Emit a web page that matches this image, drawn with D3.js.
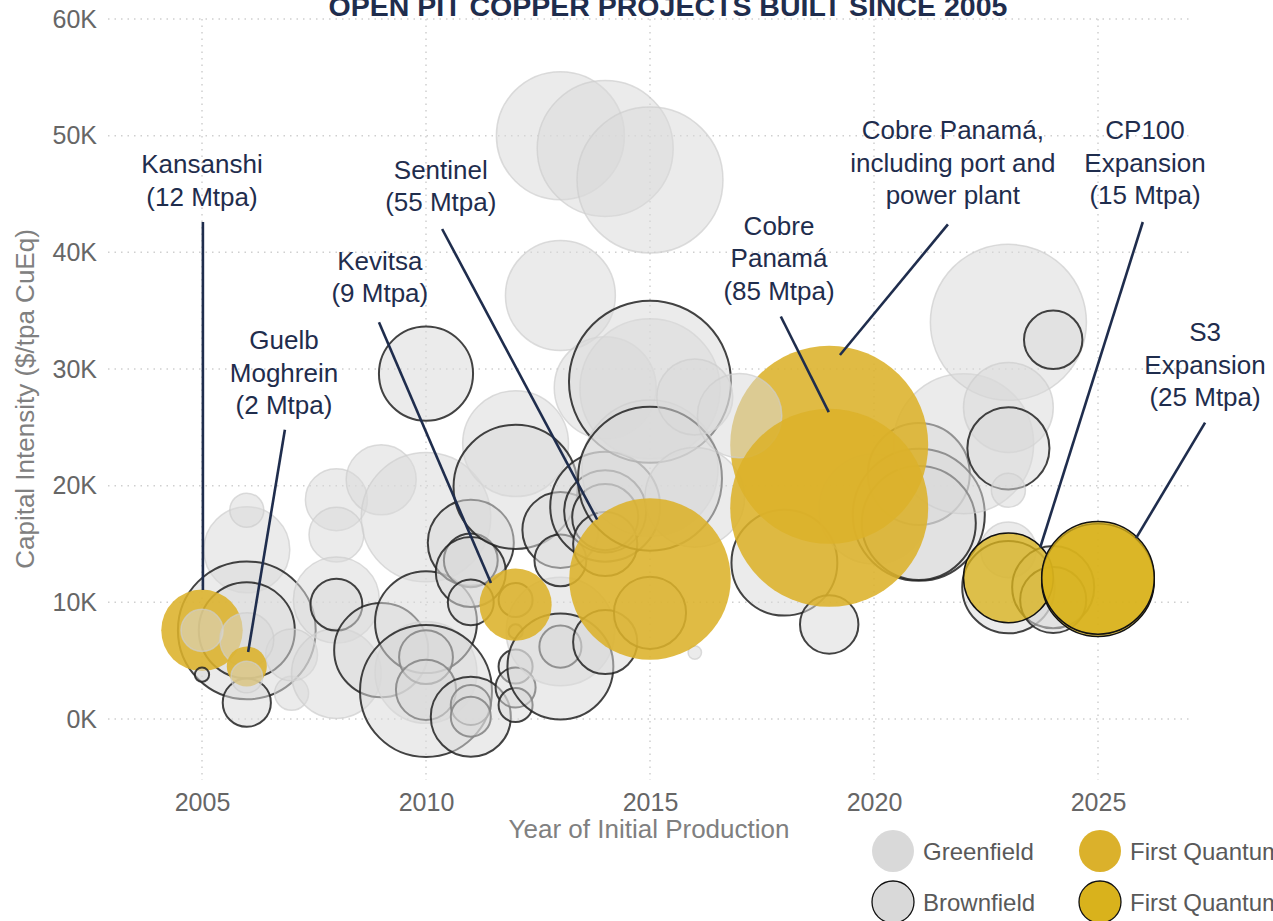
<!DOCTYPE html>
<html>
<head>
<meta charset="utf-8">
<script src="https://cdn.jsdelivr.net/npm/d3@7"></script>
<style>
  body { margin: 0; background: #fff; }
  text { font-family: "Liberation Sans", Arial, sans-serif; }
</style>
</head>
<body>
<div id="chart"></div>
<script>
// tick labels
var xTicks = [2005, 2010, 2015, 2020, 2025];
var yTicks = [0, 10, 20, 30, 40, 50, 60];

// projects: [year, capital intensity (K$/tpa CuEq), capacity (Mtpa), kind]
// kind: G = greenfield, B = brownfield, FQG / FQB = First Quantum
// array order is draw order
var projects = [
  [2006, 14.5, 13.6, "G"],
  [2006, 17.9, 1.25, "G"],
  [2006, 7.6, 39, "B"],
  [2006, 7.6, 17.5, "B"],
  [2006, 1.4, 3.3, "B"],
  [2007, 2.2, 1.25, "G"],
  [2007, 5.5, 4, "G"],
  [2008, 18.8, 6.25, "G"],
  [2008, 15.8, 4.6, "G"],
  [2008, 10.2, 13.6, "G"],
  [2008, 3.9, 15, "G"],
  [2008, 9.8, 4.0, "B"],
  [2009, 20.5, 8.4, "G"],
  [2009, 5.9, 16.7, "B"],
  [2010, 29.6, 16.7, "B"],
  [2010, 17.3, 34, "G"],
  [2010, 4.0, 20, "G"],
  [2010, 8.3, 20, "B"],
  [2010, 5.3, 4.4, "B"],
  [2010, 2.5, 5.8, "B"],
  [2010, 2.4, 35.5, "B"],
  [2011, 15.1, 13.6, "B"],
  [2011, 13.6, 4.4, "B"],
  [2011, 12.6, 8.4, "B"],
  [2011, 10.0, 2.9, "B"],
  [2011, 1.2, 2.0, "B"],
  [2011, 0.2, 2.0, "B"],
  [2011, 0.2, 11.5, "B"],
  [2012, 23.6, 21.8, "G"],
  [2012, 19.9, 31, "B"],
  [2012, 10.2, 1.25, "B"],
  [2012, 7.5, 0.02, "B"],
  [2012, 4.5, 1.25, "B"],
  [2012, 2.7, 2.0, "B"],
  [2012, 1.2, 1.25, "B"],
  [2013, 50.0, 33.2, "G"],
  [2013, 36.3, 23.7, "G"],
  [2013, 7.5, 23, "G"],
  [2013, 16.2, 10.2, "B"],
  [2013, 13.6, 4.0, "B"],
  [2013, 6.2, 2.3, "B"],
  [2013, 4.5, 21.8, "B"],
  [2014, 48.9, 37.9, "G"],
  [2014, 28.4, 20, "G"],
  [2014, 18.2, 23.7, "B"],
  [2014, 17.8, 12.2, "B"],
  [2014, 17.3, 7.3, "B"],
  [2014, 15.0, 6.8, "B"],
  [2014, 6.6, 6.8, "B"],
  [2015, 46.2, 44.2, "G"],
  [2015, 28.3, 40.4, "G"],
  [2015, 28.9, 55.4, "B"],
  [2015, 21.5, 38, "G"],
  [2015, 20.6, 42.9, "B"],
  [2015, 9.1, 9, "B"],
  [2016, 27.6, 10.2, "G"],
  [2016, 19.0, 19, "G"],
  [2016, 5.7, 0.01, "G"],
  [2018, 13.4, 21.8, "B"],
  [2019, 8.1, 5.4, "B"],
  [2020, 18.0, 23.7, "G"],
  [2021, 21.0, 20, "B"],
  [2021, 17.5, 35.5, "B"],
  [2021, 16.8, 25.7, "B"],
  [2022, 23.6, 40.4, "G"],
  [2023, 34.0, 51.1, "G"],
  [2023, 26.7, 15, "G"],
  [2023, 23.2, 12.2, "B"],
  [2023, 19.6, 1.25, "G"],
  [2023, 14.5, 4.8, "G"],
  [2023, 11.3, 16, "B"],
  [2024, 32.5, 5.4, "B"],
  [2024, 11.3, 12.2, "B"],
  [2024, 10.2, 7.3, "B"],
  // First Quantum projects
  [2005, 7.6, 12, "FQG"],      // Kansanshi
  [2005, 7.6, 2.3, "G"],
  [2006, 6.8, 4.4, "G"],
  [2005, 3.8, 0.02, "B"],
  [2006, 4.5, 2, "FQG"],       // Guelb Moghrein
  [2006, 3.6, 1.0, "G"],
  [2012, 9.8, 9, "FQG"],       // Kevitsa
  [2015, 12.0, 55, "FQG"],     // Sentinel
  [2019, 23.5, 85, "FQG"],     // Cobre Panama incl. port and power plant
  [2017, 26.0, 13, "G"],
  [2019, 18.1, 85, "FQG"],     // Cobre Panama
  [2023, 12.1, 15, "FQB"],     // CP100 Expansion
  [2025, 11.9, 25, "FQB"],
  [2025, 12.1, 25, "FQB"]      // S3 Expansion
];

// annotations: text lines, label [year, K] of first baseline, leader from / to [year, K]
var annoText = [
  ["Kansanshi", "(12 Mtpa)"],
  ["Guelb", "Moghrein", "(2 Mtpa)"],
  ["Kevitsa", "(9 Mtpa)"],
  ["Sentinel", "(55 Mtpa)"],
  ["Cobre", "Panamá", "(85 Mtpa)"],
  ["Cobre Panamá,", "including port and", "power plant"],
  ["CP100", "Expansion", "(15 Mtpa)"],
  ["S3", "Expansion", "(25 Mtpa)"]
];
var annoLabel = [[2005, 46.8], [2006.83, 31.7], [2008.97, 38.5], [2010.33, 46.3],
                 [2017.88, 41.5], [2021.76, 49.7], [2026.05, 49.7], [2027.39, 32.4]];
var annoFrom = [[2005.02, 42.6], [2006.85, 24.8], [2008.95, 34.0], [2010.36, 42.0],
                [2017.92, 34.5], [2021.65, 42.4], [2026.0, 42.6], [2027.39, 25.4]];
var annoTo = [[2005.02, 11.05], [2006.03, 5.74], [2011.45, 11.65], [2013.82, 17.1],
              [2018.99, 26.3], [2019.24, 31.2], [2023.71, 14.7], [2025.85, 15.5]];

var legendLabels = ["Greenfield", "First Quantum", "Brownfield", "First Quantum"];
var legendKinds = ["G", "FQG", "B", "FQB"];

var width = 1273, height = 921;
var navy = "#1f2d4d";

var x = d3.scaleLinear().domain([2005, 2025]).range([202, 1098]);
var y = d3.scaleLinear().domain([0, 60]).range([719, 19]);
var r = d3.scaleSqrt().domain([0, 85]).range([5.7, 99]);

var svg = d3.select("#chart").append("svg")
  .attr("width", width)
  .attr("height", height)
  .style("display", "block");

//gridlines
svg.append("g").selectAll("line").data(yTicks).enter().append("line")
  .attr("x1", 108).attr("x2", 1190)
  .attr("y1", function(d) { return y(d); })
  .attr("y2", function(d) { return y(d); })
  .attr("stroke", "#cfcfcf").attr("stroke-width", 1.5)
  .attr("stroke-dasharray", "1.5,5");

svg.append("g").selectAll("line").data(xTicks).enter().append("line")
  .attr("x1", function(d) { return x(d); })
  .attr("x2", function(d) { return x(d); })
  .attr("y1", y(60)).attr("y2", 780)
  .attr("stroke", "#cfcfcf").attr("stroke-width", 1.5)
  .attr("stroke-dasharray", "1.5,5");

//axes
var xAxis = d3.axisBottom(x).tickValues(xTicks).tickSize(0).tickPadding(0)
  .tickFormat(d3.format("d"));
var yAxis = d3.axisLeft(y).tickValues(yTicks).tickSize(0).tickPadding(0)
  .tickFormat(function(d) { return d + "K"; });

var gx = svg.append("g").attr("transform", "translate(0,793)").call(xAxis);
var gy = svg.append("g").attr("transform", "translate(97,0)").call(yAxis);
[gx, gy].forEach(function(g) {
  g.select(".domain").remove();
  g.selectAll("text")
    .style("font-family", "'Liberation Sans', Arial, sans-serif")
    .style("font-size", "25px")
    .attr("fill", "#666");
});

//bubble styles
function styleBubble(sel, kind) {
  if (kind === "G") {
    sel.attr("fill", "#d9d9d9").attr("fill-opacity", 0.53)
      .attr("stroke", "#cdcdcd").attr("stroke-opacity", 0.7).attr("stroke-width", 1.5);
  } else if (kind === "B") {
    sel.attr("fill", "#d9d9d9").attr("fill-opacity", 0.53)
      .attr("stroke", "#222").attr("stroke-opacity", 0.85).attr("stroke-width", 2);
  } else if (kind === "FQG") {
    sel.attr("fill", "#dcb22a").attr("fill-opacity", 0.88).attr("stroke", "none");
  } else {
    sel.attr("fill", "#d9b21c").attr("fill-opacity", 0.78)
      .attr("stroke", "#111").attr("stroke-width", 1.5);
  }
}

svg.append("g").selectAll("circle").data(projects).enter().append("circle")
  .attr("cx", function(d) { return x(d[0]); })
  .attr("cy", function(d) { return y(d[1]); })
  .attr("r", function(d) { return r(d[2]); })
  .each(function(d) { styleBubble(d3.select(this), d[3]); });

//axis titles
svg.append("text")
  .attr("transform", "translate(34,399) rotate(-90)")
  .attr("text-anchor", "middle")
  .attr("fill", "#808080").style("font-size", "26px")
  .text("Capital Intensity ($/tpa CuEq)");

svg.append("text")
  .attr("x", 649).attr("y", 838)
  .attr("text-anchor", "middle")
  .attr("fill", "#808080").style("font-size", "26px")
  .text("Year of Initial Production");

//title
svg.append("text")
  .attr("x", 668).attr("y", 16)
  .attr("text-anchor", "middle")
  .attr("fill", navy).style("font-size", "28.5px").style("font-weight", "bold")
  .text("OPEN PIT COPPER PROJECTS BUILT SINCE 2005");

//annotations
var ga = svg.append("g");
annoText.forEach(function(lines, i) {
  ga.append("line")
    .attr("x1", x(annoFrom[i][0])).attr("y1", y(annoFrom[i][1]))
    .attr("x2", x(annoTo[i][0])).attr("y2", y(annoTo[i][1]))
    .attr("stroke", navy).attr("stroke-width", 2.6);
  var t = ga.append("text")
    .attr("text-anchor", "middle")
    .attr("fill", navy).style("font-size", "26px");
  lines.forEach(function(s, j) {
    t.append("tspan")
      .attr("x", x(annoLabel[i][0]))
      .attr("y", y(annoLabel[i][1]) + j * 32.5)
      .text(s);
  });
});

//legend
var gl = svg.append("g");
legendLabels.forEach(function(label, i) {
  var lx = i % 2 === 0 ? 893 : 1100;
  var ly = i < 2 ? 851 : 902;
  var kind = legendKinds[i];
  var c = gl.append("circle").attr("cx", lx).attr("cy", ly).attr("r", 21);
  if (kind === "G") c.attr("fill", "#d9d9d9");
  else if (kind === "B") c.attr("fill", "#d9d9d9").attr("stroke", "#111").attr("stroke-width", 1.3);
  else if (kind === "FQG") c.attr("fill", "#dbb12b");
  else c.attr("fill", "#d9b21c").attr("stroke", "#111").attr("stroke-width", 1.3);
  gl.append("text")
    .attr("x", lx + 30).attr("y", ly + 9)
    .attr("fill", "#595959").style("font-size", "24px")
    .text(label);
});
</script>
</body>
</html>
